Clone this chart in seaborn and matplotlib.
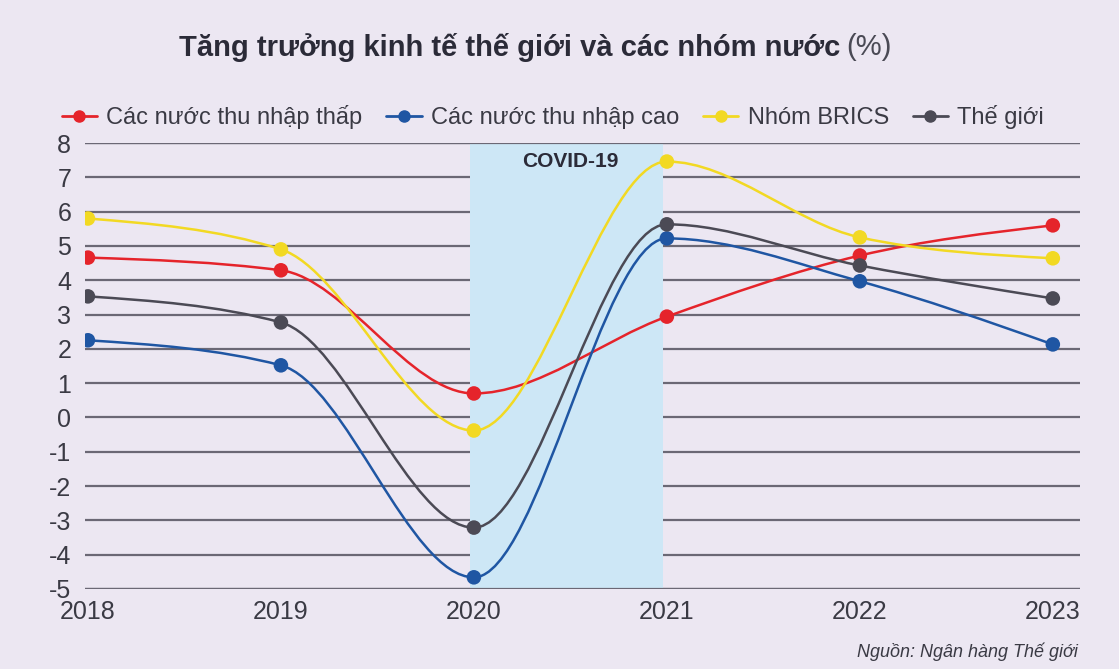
import seaborn as sns
import pandas as pd
import matplotlib.pyplot as plt
from matplotlib.path import Path
from matplotlib.patches import PathPatch
from matplotlib.lines import Line2D

years = [2018, 2019, 2020, 2021, 2022, 2023]
low_income = [4.66, 4.29, 0.70, 2.94, 4.72, 5.60]
high_income = [2.25, 1.52, -4.66, 5.22, 3.97, 2.13]
brics = [5.80, 4.90, -0.38, 7.46, 5.25, 4.64]
world = [3.53, 2.77, -3.21, 5.63, 4.43, 3.47]

names = ["Các nước thu nhập thấp", "Các nước thu nhập cao", "Nhóm BRICS", "Thế giới"]
colors = ["#E5242B", "#1F56A3", "#F2D923", "#4B4A55"]
series = [low_income, high_income, brics, world]

rows = []
for nm, vals in zip(names, series):
    for y, v in zip(years, vals):
        rows.append({"year": y, "value": v, "series": nm})
df = pd.DataFrame(rows)


def sign(v):
    return (v > 0) - (v < 0)


def monotone_path(xs, ys):
    # monotone cubic (like d3 curveMonotoneX) as bezier path
    n = len(xs)
    t = [0.0] * n
    for i in range(1, n - 1):
        h0 = xs[i] - xs[i - 1]
        h1 = xs[i + 1] - xs[i]
        s0 = (ys[i] - ys[i - 1]) / h0
        s1 = (ys[i + 1] - ys[i]) / h1
        p = (s0 * h1 + s1 * h0) / (h0 + h1)
        t[i] = (sign(s0) + sign(s1)) * min(abs(s0), abs(s1), 0.5 * abs(p))
    h = xs[1] - xs[0]
    t[0] = (3 * (ys[1] - ys[0]) / h - t[1]) / 2
    h = xs[-1] - xs[-2]
    t[-1] = (3 * (ys[-1] - ys[-2]) / h - t[-2]) / 2
    verts = [(xs[0], ys[0])]
    codes = [Path.MOVETO]
    for i in range(n - 1):
        dx = (xs[i + 1] - xs[i]) / 3
        verts += [(xs[i] + dx, ys[i] + dx * t[i]),
                  (xs[i + 1] - dx, ys[i + 1] - dx * t[i + 1]),
                  (xs[i + 1], ys[i + 1])]
        codes += [Path.CURVE4] * 3
    return Path(verts, codes)


bg = "#ECE7F2"
sns.set_style("white", {"axes.facecolor": bg, "figure.facecolor": bg})
plt.rcParams['font.family'] = ['Liberation Sans', 'DejaVu Sans']
plt.rcParams['axes.unicode_minus'] = False

fig = plt.figure(figsize=(11.19, 6.69), dpi=100)
ax = fig.add_axes([0.076, 0.1196, 0.889, 0.6666])

ax.set_xlim(2017.985, 2023.14)
ax.set_ylim(-5, 8)
ax.set_yticks(range(-5, 9))
ax.set_xticks(years)
ax.yaxis.grid(True, color="#6B6875", linewidth=1.6, zorder=0)
ax.set_axisbelow(True)
for s in ax.spines.values():
    s.set_visible(False)
ax.tick_params(axis='both', length=0, labelsize=18, labelcolor="#3A3A44")
ax.tick_params(axis='y', pad=10)
ax.tick_params(axis='x', pad=8)

# covid band
ax.axvspan(2019.98, 2020.98, color="#CDE7F6", zorder=1, linewidth=0)
for yl in (-5, 8):
    ax.axhline(yl, color="#6B6875", linewidth=1.6, zorder=1.5)
ax.text(2020.5, 7.45, "COVID-19", ha='center', va='center', fontsize=15,
        fontweight='bold', color="#2B2B38", zorder=2)

for vals, c in zip(series, colors):
    ax.add_patch(PathPatch(monotone_path(years, vals), fill=False, edgecolor=c,
                           linewidth=1.8, zorder=3, capstyle='round'))

sns.scatterplot(data=df, x="year", y="value", hue="series", palette=colors,
                s=110, edgecolor='none', legend=False, ax=ax, zorder=4)
ax.set_xlabel("")
ax.set_ylabel("")

handles = [Line2D([], [], color=c, marker='o', markersize=8, linewidth=2) for c in colors]
fig.legend(handles, names, loc='center left', bbox_to_anchor=(0.036, 1 - 117 / 669),
           ncol=4, frameon=False, fontsize=17, handlelength=1.5, handletextpad=0.4,
           columnspacing=1.0, labelcolor="#3A3A44")

fig.text(840 / 1119, 1 - 47 / 669, "Tăng trưởng kinh tế thế giới và các nhóm nước", ha='right',
         va='center', fontsize=21, fontweight='bold', color="#2B2B38")
fig.text(846 / 1119, 1 - 47 / 669, "(%)", ha='left', va='center', fontsize=21,
         color="#4A4A55")

fig.text(1078 / 1119, 1 - 652 / 669, "Nguồn: Ngân hàng Thế giới", ha='right', va='center',
         fontsize=13, style='italic', color="#3A3A44")

fig.savefig("out.png", dpi=100, facecolor=bg)
